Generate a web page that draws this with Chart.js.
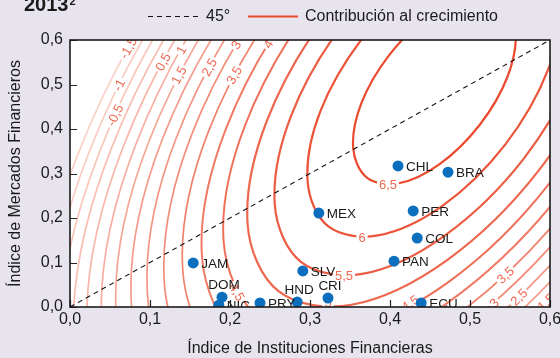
<!DOCTYPE html>
<html>
<head>
<meta charset="utf-8">
<script src="https://cdn.jsdelivr.net/npm/chart.js@4.4.1/dist/chart.umd.min.js"></script>
<style>
  html, body { margin: 0; padding: 0; background: #e8e4ee; }
</style>
</head>
<body>
<canvas id="myChart" width="560" height="358"></canvas>
<script>
const ctx = document.getElementById('myChart').getContext('2d');

// countries (x = financial institutions index, y = financial markets index)
const countries = ['CHL', 'BRA', 'MEX', 'PER', 'COL', 'PAN', 'SLV', 'CRI', 'HND', 'PRY', 'NIC', 'DOM', 'JAM', 'ECU'];
const finInstitutions = [0.410, 0.4725, 0.311, 0.429, 0.434, 0.405, 0.291, 0.3225, 0.284, 0.2375, 0.186, 0.190, 0.154, 0.439];
const finMarkets = [0.317, 0.303, 0.211, 0.216, 0.155, 0.103, 0.081, 0.020, 0.011, 0.009, 0.004, 0.022, 0.099, 0.009];
const labelSide = ['right', 'right', 'right', 'right', 'right', 'right', 'right', 'above', 'above', 'right', 'right', 'above', 'right', 'right'];

// 45 degree line
const diagX = [0, 0.6];
const diagY = [0, 0.6];

const xTicks = [0, 0.1, 0.2, 0.3, 0.4, 0.5, 0.6];
const yTicks = [0, 0.1, 0.2, 0.3, 0.4, 0.5, 0.6];

// contour levels of "contribucion al crecimiento"
const levels = [6.5, 6, 5.5, 5, 4.5, 4, 3.5, 3, 2.5, 2, 1.5, 1, 0.5, 0, -0.5, -1, -1.5];
const c65 = [[0.540,0.684],[0.557,0.619],[0.547,0.518],[0.512,0.409],[0.462,0.321],[0.411,0.278],[0.371,0.291],[0.354,0.357],[0.364,0.457],[0.399,0.566],[0.449,0.654],[0.501,0.697]];
const c60 = [[0.588,0.794],[0.614,0.692],[0.598,0.535],[0.544,0.365],[0.466,0.228],[0.385,0.161],[0.323,0.181],[0.297,0.283],[0.313,0.440],[0.368,0.610],[0.445,0.747],[0.526,0.815]];
const c55 = [[0.622,0.874],[0.655,0.745],[0.635,0.547],[0.567,0.333],[0.468,0.160],[0.367,0.075],[0.289,0.101],[0.256,0.230],[0.276,0.428],[0.344,0.642],[0.442,0.815],[0.544,0.900]];
const c50 = [[0.651,0.940],[0.689,0.789],[0.666,0.557],[0.586,0.307],[0.471,0.105],[0.352,0.005],[0.261,0.035],[0.222,0.186],[0.246,0.418],[0.326,0.669],[0.441,0.871],[0.559,0.970]];
const c45 = [[0.675,0.998],[0.719,0.828],[0.692,0.566],[0.602,0.284],[0.473,0.056],[0.339,-0.056],[0.236,-0.023],[0.192,0.148],[0.219,0.409],[0.309,0.692],[0.439,0.919],[0.573,1.032]];
const c40 = [[0.698,1.050],[0.746,0.862],[0.716,0.574],[0.617,0.263],[0.474,0.012],[0.327,-0.112],[0.214,-0.075],[0.165,0.113],[0.195,0.401],[0.294,0.712],[0.437,0.963],[0.584,1.087]];
const c35 = [[0.718,1.097],[0.770,0.894],[0.738,0.582],[0.631,0.244],[0.476,-0.028],[0.316,-0.162],[0.193,-0.122],[0.141,0.082],[0.173,0.394],[0.281,0.731],[0.435,1.003],[0.595,1.137]];
const c30 = [[0.737,1.141],[0.793,0.923],[0.759,0.588],[0.643,0.227],[0.477,-0.065],[0.306,-0.209],[0.174,-0.166],[0.118,0.052],[0.152,0.387],[0.268,0.749],[0.434,1.040],[0.606,1.184]];
const c25 = [[0.755,1.182],[0.814,0.950],[0.778,0.595],[0.655,0.210],[0.479,-0.100],[0.296,-0.253],[0.156,-0.207],[0.097,0.025],[0.133,0.381],[0.256,0.765],[0.433,1.075],[0.615,1.228]];
const c20 = [[0.771,1.221],[0.834,0.976],[0.796,0.601],[0.666,0.195],[0.480,-0.133],[0.287,-0.294],[0.140,-0.246],[0.077,-0.001],[0.115,0.375],[0.245,0.781],[0.431,1.108],[0.624,1.269]];
const c15 = [[0.787,1.258],[0.853,1.001],[0.813,0.606],[0.677,0.180],[0.481,-0.164],[0.279,-0.333],[0.124,-0.283],[0.058,-0.026],[0.098,0.369],[0.235,0.795],[0.430,1.139],[0.632,1.308]];
const c10 = [[0.803,1.293],[0.872,1.024],[0.829,0.612],[0.687,0.166],[0.482,-0.194],[0.271,-0.371],[0.109,-0.318],[0.040,-0.049],[0.082,0.364],[0.224,0.809],[0.429,1.169],[0.640,1.346]];
const c05 = [[0.817,1.327],[0.889,1.047],[0.845,0.617],[0.696,0.152],[0.483,-0.222],[0.263,-0.407],[0.094,-0.352],[0.022,-0.072],[0.066,0.358],[0.215,0.823],[0.428,1.198],[0.648,1.382]];
const c00 = [[0.831,1.359],[0.906,1.068],[0.860,0.622],[0.706,0.139],[0.485,-0.250],[0.256,-0.441],[0.080,-0.384],[0.005,-0.093],[0.051,0.353],[0.206,0.836],[0.427,1.225],[0.656,1.417]];
const cm05 = [[0.844,1.391],[0.922,1.089],[0.874,0.627],[0.715,0.127],[0.486,-0.276],[0.248,-0.475],[0.067,-0.415],[-0.011,-0.114],[0.037,0.349],[0.196,0.848],[0.426,1.251],[0.663,1.450]];
const cm10 = [[0.857,1.421],[0.938,1.109],[0.888,0.631],[0.723,0.115],[0.487,-0.302],[0.242,-0.507],[0.054,-0.446],[-0.026,-0.134],[0.023,0.344],[0.188,0.860],[0.425,1.277],[0.670,1.482]];
const cm15 = [[0.870,1.450],[0.953,1.129],[0.902,0.636],[0.732,0.103],[0.488,-0.327],[0.235,-0.538],[0.041,-0.475],[-0.041,-0.154],[0.009,0.339],[0.180,0.872],[0.424,1.301],[0.676,1.513]];
const contourLines = [c65, c60, c55, c50, c45, c40, c35, c30, c25, c20, c15, c10, c05, c00, cm05, cm10, cm15];

// where the level numbers sit on the contours
const contourLabels = [
    { t: '-1,5', x: 0.0725, y: 0.582, r: -61 },
    { t: '-1', x: 0.061, y: 0.499, r: -63 },
    { t: '-0,5', x: 0.056, y: 0.431, r: -65 },
    { t: '0,5', x: 0.116, y: 0.551, r: -61 },
    { t: '1', x: 0.139, y: 0.578, r: -60 },
    { t: '1,5', x: 0.136, y: 0.521, r: -62 },
    { t: '2,5', x: 0.174, y: 0.539, r: -61 },
    { t: '3', x: 0.2075, y: 0.589, r: -59 },
    { t: '3,5', x: 0.205, y: 0.521, r: -61 },
    { t: '4', x: 0.2475, y: 0.591, r: -58 },
    { t: '6,5', x: 0.3975, y: 0.276, r: 0 },
    { t: '6', x: 0.365, y: 0.157, r: 0 },
    { t: '5,5', x: 0.3425, y: 0.072, r: 0 },
    { t: '5', x: 0.3225, y: 0.010, r: 0 },
    { t: '4,5', x: 0.209, y: 0.034, r: 61 },
    { t: '4,5', x: 0.425, y: 0.009, r: -35 },
    { t: '3,5', x: 0.544, y: 0.072, r: -43 },
    { t: '3', x: 0.530, y: 0.009, r: -45 },
    { t: '2,5', x: 0.561, y: 0.0225, r: -45 },
    { t: '1,5', x: 0.595, y: 0.011, r: -45 }
];

const FONT = '"Liberation Sans", Arial, Helvetica, sans-serif';
const TXT = '#1a1a1a';
const RED = 'rgb(234,74,46)';
const LABEL_RED = 'rgb(238,104,80)';

function fmt(v) {
    return v.toFixed(1).replace('.', ',');
}

function lvlColor(lvl) {
    const t = Math.pow((lvl + 1.5) / 8, 1.15);
    const lo = [251, 210, 200];
    const hi = [234, 74, 46];
    const c = lo.map((a, i) => Math.round(a + (hi[i] - a) * t));
    return 'rgb(' + c.join(',') + ')';
}

const contourSets = contourLines.map((pts, i) => ({
    label: 'Contribución al crecimiento',
    data: pts.concat([pts[0]]).map(p => ({ x: p[0], y: p[1] })),
    showLine: true,
    borderColor: lvlColor(levels[i]),
    borderWidth: levels[i] >= 5 ? 2.2 : (levels[i] >= 4 ? 2 : 1.7),
    pointRadius: 0,
    tension: 0.35,
    capBezierPoints: false,
    clip: 0,
    fill: false
}));

const diagonalSet = {
    label: '45°',
    data: diagX.map((x, i) => ({ x: x, y: diagY[i] })),
    showLine: true,
    borderColor: '#111',
    borderWidth: 1.1,
    borderDash: [5, 4],
    pointRadius: 0,
    clip: 0
};

const countrySet = {
    label: 'países',
    data: countries.map((c, i) => ({ x: finInstitutions[i], y: finMarkets[i] })),
    backgroundColor: '#0b6fbe',
    borderWidth: 0,
    pointRadius: 5.5,
    clip: 0
};

const decor = {
    id: 'decor',
    beforeDatasetsDraw(chart) {
        const a = chart.chartArea, c = chart.ctx;
        c.save();
        c.fillStyle = '#fff';
        c.fillRect(a.left, a.top, a.right - a.left, a.bottom - a.top);
        c.restore();
    },
    afterDatasetDraw(chart, args) {
        // level numbers go on top of the lines but under the dots
        if (args.index !== 1) return;
        const a = chart.chartArea, c = chart.ctx;
        const xs = chart.scales.x, ys = chart.scales.y;
        c.save();
        c.beginPath();
        c.rect(a.left, a.top, a.right - a.left, a.bottom - a.top);
        c.clip();
        c.font = '13px ' + FONT;
        c.textAlign = 'center';
        c.textBaseline = 'middle';
        contourLabels.forEach(l => {
            const px = xs.getPixelForValue(l.x);
            const py = ys.getPixelForValue(l.y);
            const w = c.measureText(l.t).width;
            c.save();
            c.translate(px, py);
            c.rotate(l.r * Math.PI / 180);
            c.fillStyle = '#fff';
            c.fillRect(-w / 2 - 2, -7, w + 4, 14);
            c.fillStyle = LABEL_RED;
            c.fillText(l.t, 0, 1);
            c.restore();
        });
        c.restore();
    },
    afterDatasetsDraw(chart) {
        const a = chart.chartArea, c = chart.ctx;
        const meta = chart.getDatasetMeta(0);
        c.save();
        c.beginPath();
        c.rect(a.left, a.top, a.right - a.left, a.bottom - a.top);
        c.clip();
        c.font = '13.5px ' + FONT;
        c.fillStyle = TXT;
        c.textBaseline = 'middle';
        meta.data.forEach((pt, i) => {
            if (labelSide[i] === 'above') {
                c.textAlign = 'center';
                c.fillText(countries[i], pt.x + 2, pt.y - 12);
            } else {
                c.textAlign = 'left';
                c.fillText(countries[i], pt.x + 8, pt.y + 1);
            }
        });
        c.restore();
    },
    afterDraw(chart) {
        const a = chart.chartArea, c = chart.ctx;
        const xs = chart.scales.x, ys = chart.scales.y;
        c.save();
        // inward tick marks
        c.strokeStyle = '#222';
        c.lineWidth = 1.2;
        c.beginPath();
        xTicks.forEach(v => {
            const px = Math.round(xs.getPixelForValue(v)) + 0.5;
            c.moveTo(px, a.bottom);
            c.lineTo(px, a.bottom - 7);
        });
        yTicks.forEach(v => {
            const py = Math.round(ys.getPixelForValue(v)) + 0.5;
            c.moveTo(a.left, py);
            c.lineTo(a.left + 7, py);
        });
        c.stroke();
        // frame
        c.lineWidth = 1.6;
        c.strokeStyle = '#1a1a1a';
        c.strokeRect(a.left, a.top, a.right - a.left, a.bottom - a.top);

        // legend
        c.lineWidth = 1.1;
        c.strokeStyle = '#111';
        c.setLineDash([5, 4]);
        c.beginPath();
        c.moveTo(148, 16.5);
        c.lineTo(198, 16.5);
        c.stroke();
        c.setLineDash([]);
        c.lineWidth = 2;
        c.strokeStyle = RED;
        c.beginPath();
        c.moveTo(248, 16.5);
        c.lineTo(298, 16.5);
        c.stroke();
        c.fillStyle = TXT;
        c.font = '16px ' + FONT;
        c.textAlign = 'left';
        c.textBaseline = 'middle';
        c.fillText('45°', 206, 17);
        c.fillText('Contribución al crecimiento', 305, 17);

        // cut-off panel title
        c.font = 'bold 20px ' + FONT;
        c.textBaseline = 'alphabetic';
        c.fillText('2013', 24, 11);
        const tw = c.measureText('2013').width;
        c.font = 'bold 11px ' + FONT;
        c.fillText('2', 24 + tw + 1, 5);
        c.restore();
    }
};

new Chart(ctx, {
    type: 'scatter',
    data: {
        datasets: [countrySet, diagonalSet].concat(contourSets)
    },
    options: {
        responsive: false,
        animation: false,
        devicePixelRatio: 1,
        layout: { padding: { top: 40, right: 10, left: 0, bottom: 0 } },
        elements: { line: { capBezierPoints: false } },
        plugins: {
            legend: { display: false },
            tooltip: { enabled: false }
        },
        scales: {
            x: {
                type: 'linear',
                min: 0,
                max: 0.6,
                afterFit: s => { s.height = 51; s.paddingLeft = 0; s.paddingRight = 0; },
                grid: { display: false, drawTicks: false },
                border: { display: false },
                ticks: {
                    stepSize: 0.1,
                    autoSkip: false,
                    maxRotation: 0,
                    padding: 3,
                    color: TXT,
                    font: { size: 16, family: FONT },
                    callback: v => fmt(v)
                },
                title: {
                    display: true,
                    text: 'Índice de Instituciones Financieras',
                    color: TXT,
                    font: { size: 16, family: FONT },
                    padding: { top: 0, bottom: 0 }
                }
            },
            y: {
                type: 'linear',
                min: 0,
                max: 0.6,
                afterFit: s => { s.width = 70; s.paddingTop = 0; s.paddingBottom = 0; },
                grid: { display: false, drawTicks: false },
                border: { display: false },
                ticks: {
                    stepSize: 0.1,
                    autoSkip: false,
                    padding: 7,
                    color: TXT,
                    font: { size: 16, family: FONT },
                    callback: v => fmt(v)
                },
                title: {
                    display: true,
                    text: 'Índice de Mercados Financieros',
                    color: TXT,
                    font: { size: 16, family: FONT },
                    padding: { top: 6, bottom: 0 }
                }
            }
        }
    },
    plugins: [decor]
});
</script>
</body>
</html>
